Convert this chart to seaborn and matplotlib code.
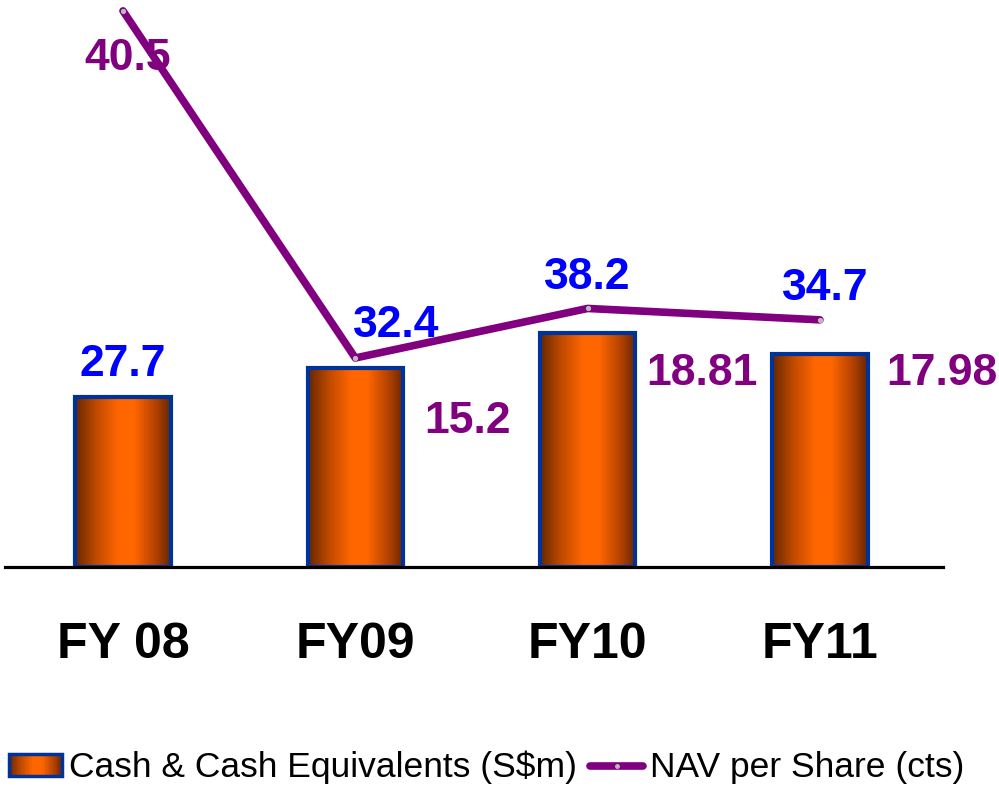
import numpy as np
import pandas as pd
import seaborn as sns
import matplotlib
matplotlib.use('Agg')
import matplotlib.pyplot as plt
from matplotlib.colors import LinearSegmentedColormap
from matplotlib.patches import Rectangle, Patch
from matplotlib.lines import Line2D
from matplotlib.legend_handler import HandlerBase

# data
years = ['FY 08', 'FY09', 'FY10', 'FY11']
cash = [27.7, 32.4, 38.2, 34.7]          # Cash & Cash Equivalents (S$m)
nav = [40.5, 15.2, 18.81, 17.98]         # NAV per Share (cts)
cash_labels = ['27.7', '32.4', '38.2', '34.7']
nav_labels = ['40.5', '15.2', '18.81', '17.98']

# label offsets in pixels (manual placement like in the original slide)
cash_offsets = [(0, 21), (41, 31), (0, 44), (5, 54)]
nav_offsets = [(5, -59), (112, -75), (114, -77), (122, -65)]

purple = '#800080'
blue_txt = '#0000ff'
edge_blue = '#003399'
grad = LinearSegmentedColormap.from_list(
    'cyl', [(0.0, '#662600'), (0.22, '#c04a00'), (0.45, '#ff6600'),
            (0.62, '#ff6600'), (0.85, '#b04000'), (1.0, '#662600')])

sns.set_theme(style='white')
plt.rcParams['font.family'] = ['Liberation Sans', 'DejaVu Sans']
plt.rcParams['text.color'] = 'black'

df = pd.DataFrame({'year': years, 'cash': cash, 'nav': nav})

fig = plt.figure(figsize=(9.99, 7.89), dpi=100)
ax = fig.add_axes([5 / 999, 222.5 / 789, 938 / 999, 561.5 / 789])

sns.barplot(data=df, x='year', y='cash', width=0.41, color='#ff6600',
            edgecolor=edge_blue, linewidth=3, ax=ax, zorder=2)

# cylinder-like gradient inside each bar
g = np.linspace(0, 1, 256).reshape(1, -1)
for p in ax.patches:
    x0, y0 = p.get_x(), p.get_y()
    w, h = p.get_width(), p.get_height()
    im = ax.imshow(g, cmap=grad, aspect='auto', extent=(x0, x0 + w, y0, y0 + h),
                   zorder=1.5, interpolation='bilinear')
    im.set_clip_path(p)
    p.set_facecolor('none')

ax.set_xlim(-0.508, 3.53)
ax.set_ylim(0, 91.75)

for i, p in enumerate(ax.patches):
    ax.annotate(cash_labels[i], (p.get_x() + p.get_width() / 2, p.get_height()),
                xytext=cash_offsets[i], textcoords='offset pixels',
                ha='center', va='baseline', fontsize=32, fontweight='bold',
                color=blue_txt, zorder=5)

# NAV line on secondary axis
ax2 = ax.twinx()
sns.lineplot(x=np.arange(len(years)), y=nav, ax=ax2, color=purple, linewidth=5.5,
             marker='o', markersize=3, markerfacecolor='#bbbbbb',
             markeredgecolor='#bbbbbb', legend=False)
for ln in ax2.lines:
    ln.set_solid_capstyle('round')
    ln.set_solid_joinstyle('round')
    ln.set_clip_on(False)
ax2.set_ylim(0, 40.93)
ax2.set_xlim(-0.508, 3.53)
for i, v in enumerate(nav):
    ax2.annotate(nav_labels[i], (i, v), xytext=nav_offsets[i],
                 textcoords='offset pixels', ha='center', va='baseline',
                 fontsize=32, fontweight='bold', color=purple, zorder=5,
                 annotation_clip=False)

for a in (ax, ax2):
    for s in ['top', 'right', 'left']:
        a.spines[s].set_visible(False)
    a.set_yticks([])
    a.set_ylabel('')
    a.patch.set_visible(False)
ax2.spines['bottom'].set_visible(False)
ax.spines['bottom'].set_color('black')
ax.spines['bottom'].set_linewidth(2.3)
ax.set_xlabel('')
ax.set_xticks(range(len(years)))
ax.set_xticklabels(years, fontsize=36, fontweight='bold', color='black')
ax.tick_params(axis='x', length=0, pad=40, labelcolor='black')


class GradientHandler(HandlerBase):
    def create_artists(self, legend, orig_handle, xdescent, ydescent,
                       width, height, fontsize, trans):
        arts = []
        n = 40
        for k in range(n):
            r = Rectangle((-xdescent + width * k / n, -ydescent), width / n * 1.1,
                          height, facecolor=grad((k + 0.5) / n), edgecolor='none',
                          antialiased=False, transform=trans)
            arts.append(r)
        arts.append(Rectangle((-xdescent, -ydescent), width, height,
                              facecolor='none', edgecolor=edge_blue, lw=2.5,
                              transform=trans))
        return arts


bar_handle = Patch(facecolor='#ff6600', edgecolor=edge_blue)
line_handle = Line2D([], [], color=purple, lw=5.5, marker='o', markersize=2.5,
                     markerfacecolor='#bbbbbb', markeredgecolor='#bbbbbb',
                     solid_capstyle='round')
leg = fig.legend([bar_handle, line_handle],
                 ['Cash & Cash Equivalents (S$m)', 'NAV per Share (cts)'],
                 handler_map={Patch: GradientHandler()},
                 loc='center', bbox_to_anchor=(0.487, 0.027), ncol=2, frameon=False,
                 fontsize=25.5, handlelength=1.5, handleheight=0.6,
                 handletextpad=0.18, columnspacing=0.38, borderpad=0, borderaxespad=0)
for t in leg.get_texts():
    t.set_color('black')

plt.savefig('out.png', dpi=100)
plt.close()
